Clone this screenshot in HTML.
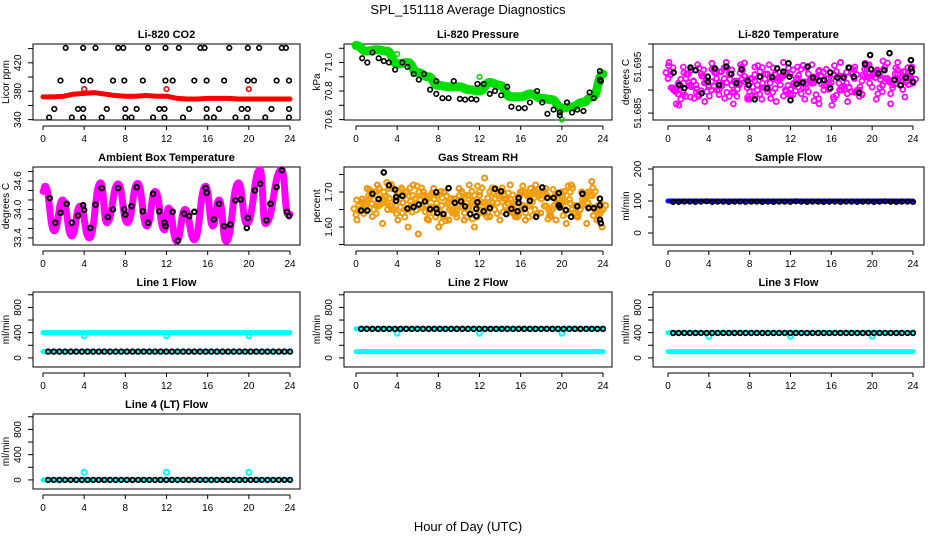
<!DOCTYPE html>
<html><head><meta charset="utf-8">
<style>
html,body{margin:0;padding:0;background:#fff;}
svg{display:block;font-family:"Liberation Sans",sans-serif;}
</style></head>
<body>
<svg id="chart" width="936" height="540" viewBox="0 0 936 540">
<rect width="936" height="540" fill="#fff"/>
<text x="468" y="14" text-anchor="middle" font-size="13">SPL_151118  Average Diagnostics</text>
<text x="468" y="531" text-anchor="middle" font-size="13">Hour of Day (UTC)</text>
</svg>
<script>
// ---------- data ----------
const xTicks=[0,4,8,12,16,20,24];
// CO2
const co2RedHourly=[372,372,373,376,377,378,376,374,373,373,374,373,373,370,369,369,370,370,370,369,369,369,369,369,369];
const co2RedOutHours=[4,12,20];
const co2RedOutVals=[383,383,383];
const co2BlkHours=[2.2,3.9,5.1,7.3,7.8,10.2,11.9,13.2,15.3,15.7,18.1,19.9,21.0,23.2,23.6,1.7,3.9,4.6,6.8,7.9,9.7,11.9,12.6,14.7,15.9,17.6,19.9,20.5,22.7,23.9,1.1,3.4,3.9,6.2,8.0,9.1,11.3,11.8,14.2,15.9,17.1,19.3,19.9,22.2,23.9,0.6,2.8,3.9,5.7,8.0,8.6,10.7,11.8,13.6,15.9,16.6,18.7,19.8,21.6,23.9];
const co2BlkVals=[441,441,441,441,441,441,441,441,441,441,441,441,441,441,441,395,395,395,395,395,395,395,395,395,395,395,395,395,395,395,355,355,355,355,355,355,355,355,355,355,355,355,355,355,355,343,343,343,343,343,343,343,343,343,343,343,343,343,343,343];
// Pressure
const presGreen=[71.12,71.08,71.09,71.08,70.99,71.0,70.93,70.9,70.84,70.83,70.83,70.81,70.8,70.86,70.84,70.76,70.76,70.78,70.75,70.74,70.68,70.69,70.72,70.76,70.92];
const presGreenOutHours=[4,12,20];
const presGreenOutVals=[71.06,70.9,70.6];
const presBlkHours=[0.6,1.1,1.6,2.2,2.7,3.2,3.8,4.5,5.0,5.6,6.1,6.6,7.2,7.8,7.8,8.4,9.0,9.5,10.1,10.6,11.2,11.7,11.8,12.4,13.0,13.5,14.1,14.7,15.1,15.8,16.4,16.9,17.6,18.1,18.6,19.2,19.8,19.8,20.5,21.0,21.5,22.1,22.7,23.1,23.7,23.7,23.8];
const presBlkVals=[71.03,71.0,71.07,71.03,71.01,71.0,70.95,71.0,70.97,70.92,70.88,70.92,70.81,70.87,70.78,70.75,70.75,70.87,70.745,70.74,70.745,70.74,70.85,70.85,70.78,70.80,70.77,70.83,70.69,70.68,70.68,70.72,70.80,70.72,70.64,70.67,70.63,70.65,70.72,70.65,70.67,70.66,70.79,70.75,70.88,70.94,70.87];
// Li-820 temperature
const tempA=[51.6925,51.6905,51.6915,51.6895,51.6935,51.6920,51.6890,51.6930,51.6910,51.6945,51.6900,51.6925,51.6935,51.6895,51.6915,51.6930,51.6880,51.6920,51.6940,51.6905,51.6915,51.6935,51.6925,51.6900,51.6935,51.6915,51.6945,51.6905,51.6920,51.6890,51.6930,51.6910,51.6925,51.6940,51.6900,51.6915,51.6935,51.6895,51.6920,51.6945,51.6930,51.6940,51.6910,51.6925,51.6905,51.6935,51.6920,51.6930,51.6915];
const tempB=[51.6940,51.6900,51.6880,51.6925,51.6910,51.6895,51.6935,51.6915,51.6900,51.6925,51.6940,51.6895,51.6910,51.6920,51.6950,51.6905,51.6925,51.6900,51.6915,51.6935,51.6895,51.6920,51.6930,51.6910,51.6890,51.6925,51.6905,51.6935,51.6915,51.6940,51.6900,51.6925,51.6880,51.6915,51.6930,51.6905,51.6925,51.6900,51.6945,51.6915,51.6935,51.6905,51.6950,51.6920,51.6935,51.6910,51.6940,51.6925];
const tempC=[51.6960,51.6870,51.6950,51.6885,51.6955,51.6875,51.6945,51.6890,51.6960,51.6870,51.6955,51.6885,51.6950,51.6880,51.6955,51.6875,51.6960,51.6890,51.6950,51.6880,51.6955,51.6870,51.6945,51.6885,51.6960,51.6875,51.6950,51.6890,51.6955,51.6880,51.6945,51.6870,51.6960,51.6885,51.6950];
const tempBlkHours=[0.55,1.1,1.6,2.2,2.7,3.3,3.9,3.9,4.6,5.0,5.7,6.2,6.7,7.2,7.8,7.9,8.5,9.0,9.7,10.2,10.7,11.3,11.8,11.9,12.0,12.6,13.2,13.7,14.2,14.8,15.3,15.9,15.9,16.6,17.2,17.7,18.2,18.7,19.3,19.8,19.9,20.6,21.2,21.7,22.2,22.8,23.3,23.8,23.8,23.9,24];
const tempBlkVals=[51.6938,51.6911,51.6904,51.6949,51.6943,51.6893,51.6929,51.6918,51.6947,51.6911,51.6951,51.6935,51.6915,51.6945,51.6920,51.6911,51.6880,51.6929,51.6904,51.6928,51.6947,51.6940,51.6958,51.6929,51.6878,51.6913,51.6916,51.6951,51.6927,51.6920,51.6922,51.6938,51.6904,51.6927,51.6927,51.6949,51.6929,51.6894,51.6956,51.6976,51.6945,51.6936,51.6943,51.6980,51.6922,51.6911,51.6927,51.6965,51.6947,51.6940,51.6918];
// Ambient box temperature
const ambHours=[0,0.2,1.1,1.9,2.8,3.6,4.5,5.6,6.2,7.3,8.2,9.2,10.1,10.9,11.8,12.2,13.0,13.8,14.7,15.8,16.5,17.1,17.8,19.0,19.8,21.1,21.6,23.2,23.8,24];
const ambVals=[34.38,34.49,33.55,34.2,33.44,34.07,33.4,34.56,33.72,34.54,33.72,34.55,33.65,34.38,33.57,34.03,33.33,34.0,33.36,34.49,33.65,34.2,33.33,34.56,33.7,34.84,33.7,34.84,33.9,33.9];
const ambBlkHours=[0.65,1.2,1.7,2.3,2.8,3.4,3.9,4.0,4.6,5.1,5.7,6.3,6.8,7.3,7.9,8.0,8.6,9.1,9.7,10.2,10.7,11.3,11.8,11.9,12.6,13.1,13.7,14.2,14.7,15.8,15.9,16.6,17.1,17.6,18.2,18.7,19.2,19.8,19.9,20.6,21.1,21.7,22.1,22.7,23.2,23.7,23.9];
const ambBlkVals=[34.24,33.72,33.93,34.12,33.72,33.87,34.09,33.99,33.61,34.10,34.45,33.84,34.0,34.45,34.0,33.89,34.07,34.47,33.96,33.72,34.33,33.96,33.72,33.65,33.95,33.34,33.91,33.86,33.95,34.45,34.35,33.79,34.12,33.65,33.68,34.19,34.21,33.61,33.82,34.40,34.54,33.77,34.12,34.47,34.83,33.95,33.86];
// Gas stream RH
const rhA=[1.635,1.650,1.665,1.690,1.700,1.680,1.670,1.660,1.690,1.640,1.700,1.690,1.665,1.655,1.680,1.640,1.690,1.630,1.670,1.650,1.665,1.680,1.655,1.640,1.650,1.670,1.700,1.680,1.690,1.660,1.680,1.670,1.650,1.640,1.690,1.700,1.680,1.660,1.650,1.670,1.690,1.690,1.650,1.660,1.680,1.670,1.690,1.660,1.650];
const rhB=[1.660,1.670,1.690,1.650,1.660,1.700,1.710,1.650,1.700,1.690,1.650,1.660,1.700,1.690,1.640,1.680,1.650,1.700,1.650,1.640,1.690,1.640,1.690,1.690,1.700,1.640,1.660,1.650,1.700,1.690,1.650,1.640,1.690,1.700,1.660,1.650,1.690,1.700,1.640,1.690,1.660,1.650,1.700,1.640,1.650,1.680,1.700,1.650,1.640];
const rhC=[1.620,1.680,1.710,1.630,1.720,1.610,1.650,1.710,1.620,1.670,1.600,1.720,1.580,1.700,1.620,1.710,1.600,1.700,1.620,1.680,1.710,1.620,1.720,1.600,1.690,1.740,1.630,1.710,1.620,1.680,1.720,1.630,1.700,1.620,1.710,1.720,1.640,1.710,1.630,1.620,1.700,1.610,1.720,1.630,1.700,1.610,1.730,1.620,1.600];
const rhBlkHours=[0.5,1.1,1.6,2.2,2.7,3.2,3.8,3.9,3.9,4.5,5.0,5.6,6.1,6.7,7.2,7.8,7.8,7.9,8.5,9.0,9.6,10.2,10.6,11.1,11.7,11.7,11.8,12.4,13.0,13.5,14.1,14.6,15.1,15.7,15.8,15.8,16.4,16.9,17.5,18.1,18.6,19.2,19.7,19.7,19.8,20.4,20.9,21.5,22.0,22.6,23.1,23.7,23.7,23.7,23.8];
const rhBlkVals=[1.647,1.647,1.695,1.680,1.756,1.719,1.707,1.686,1.675,1.689,1.653,1.657,1.664,1.673,1.651,1.699,1.652,1.640,1.637,1.711,1.669,1.673,1.659,1.637,1.631,1.652,1.671,1.645,1.654,1.709,1.702,1.637,1.652,1.645,1.669,1.683,1.652,1.675,1.629,1.713,1.683,1.683,1.662,1.697,1.656,1.648,1.629,1.659,1.695,1.654,1.654,1.681,1.662,1.621,1.611];
// Flows
const sampleBlue=[100,100,100,100,100,100,100,100,100,100,100,100,100,100,100,100,100,100,100,100,100,100,100,100,100];
const sampleBlk=[97,97,98,98,97,98,99,97,98,98,97,98,98,97,98,98,97,98,97,98,98,97,99,98,97,98,98,97,98,98,97,98,98,97,98,98,97,98,99,98,97,98,98,97];
const l1Cyan=[400,400,400,400,400,400,400,400,400,400,400,400,400,400,400,400,400,400,400,400,400,400,400,400,400];
const l1CyanLow=[100,100,100,100,100,100,100,100,100,100,100,100,100,100,100,100,100,100,100,100,100,100,100,100,100];
const l1Blk=[100,100,100,100,100,100,100,100,100,100,100,100,100,100,100,100,100,100,100,100,100,100,100,100,100,100,100,100,100,100,100,100,100,100,100,100,100,100,100,100,100,100,100,100];
const dipHours=[4,12,20];
const l1Dips=[350,350,350];
const l2CyanHigh=[460,460,460,460,460,460,460,460,460,460,460,460,460,460,460,460,460,460,460,460,460,460,460,460,460];
const l2Cyan=[100,100,100,100,100,100,100,100,100,100,100,100,100,100,100,100,100,100,100,100,100,100,100,100,100];
const l2Blk=[460,460,460,460,460,460,460,460,460,460,460,460,460,460,460,460,460,460,460,460,460,460,460,460,460,460,460,460,460,460,460,460,460,460,460,460,460,460,460,460,460,460,460,460];
const l2Dips=[390,390,390];
const l3CyanHigh=[400,400,400,400,400,400,400,400,400,400,400,400,400,400,400,400,400,400,400,400,400,400,400,400,400];
const l3Cyan=[100,100,100,100,100,100,100,100,100,100,100,100,100,100,100,100,100,100,100,100,100,100,100,100,100];
const l3Blk=[395,395,395,395,395,395,395,395,395,395,395,395,395,395,395,395,395,395,395,395,395,395,395,395,395,395,395,395,395,395,395,395,395,395,395,395,395,395,395,395,395,395,395,395];
const l3Dips=[340,340,340];
const l4Cyan=[0,0,0,0,0,0,0,0,0,0,0,0,0,0,0,0,0,0,0,0,0,0,0,0,0];
const l4Blk=[0,0,0,0,0,0,0,0,0,0,0,0,0,0,0,0,0,0,0,0,0,0,0,0,0,0,0,0,0,0,0,0,0,0,0,0,0,0,0,0,0,0,0,0];
const l4Spikes=[120,120,120];

// ---------- drawing ----------
const svg=document.getElementById('chart');
const NS='http://www.w3.org/2000/svg';
function mk(tag,attrs,parent){const e=document.createElementNS(NS,tag);for(const k in attrs)e.setAttribute(k,attrs[k]);(parent||svg).appendChild(e);return e;}
const cols=[{l:33,r:300,x0:43,x24:290},{l:344,r:612,x0:356,x24:603},{l:653,r:924,x0:668,x24:913}];
const rows=[{t:44,b:120},{t:167,b:245},{t:292,b:367},{t:414,b:489}];

function panel(name,title,ci,ri,lo,hi,ticks,labels,dec,ylab){
  const c=cols[ci],r=rows[ri];
  const g=mk('g',{});
  
  
  const P={g,xs:h=>c.x0+(c.x24-c.x0)*h/24,ys:v=>r.b-(v-lo)/(hi-lo)*(r.b-r.t)};
  const tt=mk('text',{x:(c.l+c.r)/2,y:r.t-6,'text-anchor':'middle','font-size':11,'font-weight':'bold'},g);
  tt.textContent=title;
  
  
  const box=mk('rect',{x:c.l,y:r.t,width:c.r-c.l,height:r.b-r.t,fill:'none',stroke:'#000','stroke-width':1},g);
  
  
  const xa=mk('g',{},g);
  
  
  const ay=r.b+6;
  mk('line',{x1:P.xs(0),x2:P.xs(24),y1:ay,y2:ay,stroke:'#000'},xa);
  xTicks.forEach(t=>{mk('line',{x1:P.xs(t),x2:P.xs(t),y1:ay,y2:ay+4,stroke:'#000'},xa);
    const tx=mk('text',{x:P.xs(t),y:r.b+22,'text-anchor':'middle','font-size':10},xa);tx.textContent=t;});
  const ya=mk('g',{},g);
  
  
  ticks.forEach(t=>{const y=P.ys(t);mk('line',{x1:c.l-5,x2:c.l,y1:y,y2:y,stroke:'#000'},ya);
    if(labels.indexOf(t)>=0){const tx=mk('text',{x:0,y:0,'text-anchor':'middle','font-size':10,transform:`translate(${c.l-12},${y}) rotate(-90)`},ya);tx.textContent=t.toFixed(dec);}});
  const yl=mk('text',{x:0,y:0,'text-anchor':'middle','font-size':10,transform:`translate(${c.l-24},${(r.t+r.b)/2}) rotate(-90)`},ya);
  yl.textContent=ylab;
  
  
  return P;
}
function pts(P,name,hours,vals,color,rad,sw,dup){
  const g=mk('g',{},P.g);
  
  
  vals.forEach((v,i)=>{const x=P.xs(hours[i]),y=P.ys(v);
    mk('circle',{cx:x,cy:y,r:rad||2.3,fill:'none',stroke:color,'stroke-width':sw||1.6},g);
    if(dup){mk('circle',{cx:x+2.5,cy:y+(i%2?4:-4),r:rad||2.3,fill:'none',stroke:color,'stroke-width':sw||1.6},g);
            mk('circle',{cx:x-2,cy:y+(i%3-1)*6,r:rad||2.3,fill:'none',stroke:color,'stroke-width':sw||1.6},g);}
  });
}
function even(vals,h0,h1){return vals.map((v,i)=>h0+(h1-h0)*i/(vals.length-1));}
function line(P,name,hours,vals,color,w,smooth){
  let d;
  const p0=vals.map((v,i)=>[P.xs(hours[i]),P.ys(v)]);
  if(smooth){
    d='M'+p0[0][0]+','+p0[0][1];
    for(let i=0;i<p0.length-1;i++){const a=p0[i],b=p0[i+1],mx=(a[0]+b[0])/2;d+=` C${mx},${a[1]} ${mx},${b[1]} ${b[0]},${b[1]}`;}
  } else d='M'+p0.map(p=>p.join(',')).join(' L');
  const p=mk('path',{d,fill:'none',stroke:color,'stroke-width':w,'stroke-linejoin':'round','stroke-linecap':'round'},P.g);
  
  
}

// CO2
let P=panel('co2','Li-820 CO2',0,0,339.5,446.5,[340,360,380,400,420,440],[340,380,420],0,'Licor ppm');
line(P,'co2-red-series',even(co2RedHourly,0,24),co2RedHourly,'#ff0000',5);
pts(P,'co2-red-outliers',co2RedOutHours,co2RedOutVals,'#ff0000');
pts(P,'co2-black-points',co2BlkHours,co2BlkVals,'#000');
// Pressure
P=panel('pressure','Li-820 Pressure',1,0,70.597,71.13,[70.6,70.7,70.8,70.9,71.0,71.1],[70.6,70.8,71.0],1,'kPa');
line(P,'pressure-green-series',even(presGreen,0,24),presGreen,'#00dd00',9,true);
pts(P,'pressure-green-outliers',presGreenOutHours,presGreenOutVals,'#00dd00');
pts(P,'pressure-black-points',presBlkHours,presBlkVals,'#000');
// Temperature
P=panel('li820-temperature','Li-820 Temperature',2,0,51.6835,51.7,[51.685,51.69,51.695,51.7],[51.685,51.695],3,'degrees C');
pts(P,'temperature-magenta-a',even(tempA,0,24),tempA,'#ff00ff',2.5,1.8,true);
pts(P,'temperature-magenta-b',even(tempB,0.25,23.75),tempB,'#ff00ff',2.5,1.8,true);
pts(P,'temperature-magenta-c',even(tempC,0.1,23.9),tempC,'#ff00ff',2.5,1.8);
pts(P,'temperature-black-points',tempBlkHours,tempBlkVals,'#000',2.3,2);
// Ambient
P=panel('ambient-temperature','Ambient Box Temperature',0,1,33.25,34.895,[33.4,33.6,33.8,34.0,34.2,34.4,34.6,34.8],[33.4,34.0,34.6],1,'degrees C');
line(P,'ambient-magenta-series',ambHours,ambVals,'#ff00ff',7,true);
pts(P,'ambient-black-points',ambBlkHours,ambBlkVals,'#000',2.3,2);
// RH
P=panel('gas-rh','Gas Stream RH',1,1,1.5486,1.7714,[1.55,1.6,1.65,1.7,1.75],[1.6,1.7],2,'percent');
pts(P,'rh-orange-a',even(rhA,0,24),rhA,'#f0a010',2.5,2.2,true);
pts(P,'rh-orange-b',even(rhB,0.25,23.75),rhB,'#f0a010',2.5,2.2,true);
pts(P,'rh-orange-c',even(rhC,0.1,23.9),rhC,'#f09010',2.5,2);
pts(P,'rh-black-points',rhBlkHours,rhBlkVals,'#000',2.3,2);
// Sample flow
P=panel('sample-flow','Sample Flow',2,1,-37.5,206.25,[0,50,100,150,200],[0,100,200],0,'ml/min');
line(P,'sample-blue-series',even(sampleBlue,0,24),sampleBlue,'#0000ff',5);
pts(P,'sample-black-points',even(sampleBlk,0.5,24),sampleBlk,'#000',2.2,1.8);
// Flows
const fl=-144,fh=1044,ft=[0,200,400,600,800,1000],fL=[0,400,800];
P=panel('line1-flow','Line 1 Flow',0,2,fl,fh,ft,fL,0,'ml/min');
line(P,'line1-cyan-high',even(l1Cyan,0,24),l1Cyan,'#00ffff',5);
line(P,'line1-cyan-low',even(l1CyanLow,0,24),l1CyanLow,'#00ffff',5);
pts(P,'line1-cyan-dips',dipHours,l1Dips,'#00ffff',2.4,2);
pts(P,'line1-black-points',even(l1Blk,0.5,24),l1Blk,'#000',2.3,1.8);
P=panel('line2-flow','Line 2 Flow',1,2,fl,fh,ft,fL,0,'ml/min');
line(P,'line2-cyan-high',even(l2CyanHigh,0,24),l2CyanHigh,'#00ffff',5);
line(P,'line2-cyan-low',even(l2Cyan,0,24),l2Cyan,'#00ffff',5);
pts(P,'line2-cyan-dips',dipHours,l2Dips,'#00ffff',2.4,2);
pts(P,'line2-black-points',even(l2Blk,0.5,24),l2Blk,'#000',2.3,1.8);
P=panel('line3-flow','Line 3 Flow',2,2,fl,fh,ft,fL,0,'ml/min');
line(P,'line3-cyan-high',even(l3CyanHigh,0,24),l3CyanHigh,'#00ffff',5);
line(P,'line3-cyan-low',even(l3Cyan,0,24),l3Cyan,'#00ffff',5);
pts(P,'line3-cyan-dips',dipHours,l3Dips,'#00ffff',2.4,2);
pts(P,'line3-black-points',even(l3Blk,0.5,24),l3Blk,'#000',2.3,1.8);
P=panel('line4-flow','Line 4 (LT) Flow',0,3,fl,fh,ft,fL,0,'ml/min');
line(P,'line4-cyan-series',even(l4Cyan,0,24),l4Cyan,'#00ffff',5);
pts(P,'line4-cyan-spikes',dipHours,l4Spikes,'#00ffff',2.6,2);
pts(P,'line4-black-points',even(l4Blk,0.5,24),l4Blk,'#000',2.3,1.8);
</script>
</body></html>
